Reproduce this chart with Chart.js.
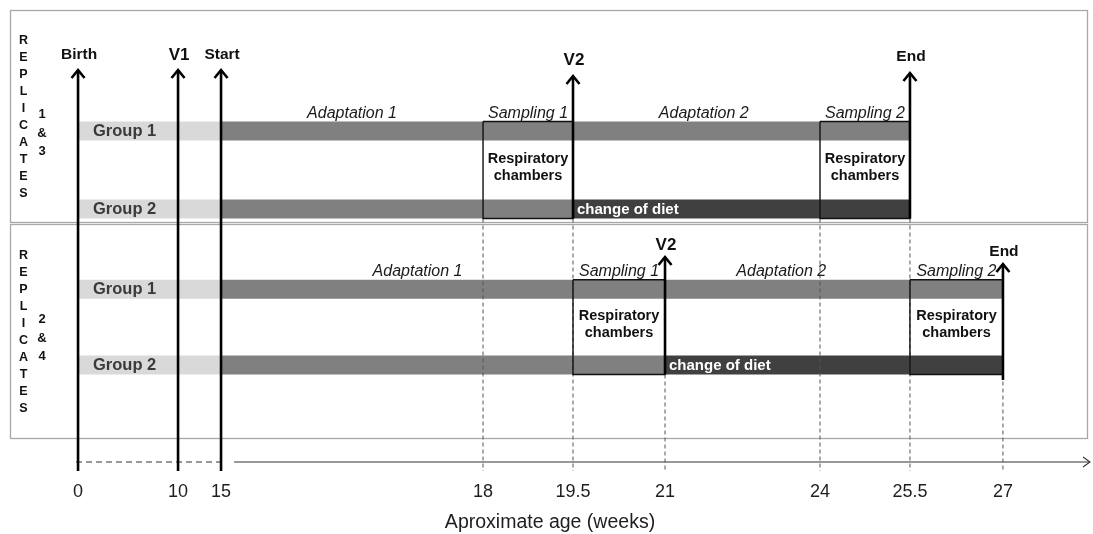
<!DOCTYPE html>
<html>
<head>
<meta charset="utf-8">
<script src="https://cdn.jsdelivr.net/npm/chart.js@4.4.1/dist/chart.umd.min.js"></script>
<style>
  html, body { margin: 0; padding: 0; background: #ffffff; }
  #wrap { width: 1093px; height: 534px; }
</style>
</head>
<body>
<div id="wrap"><canvas id="c" width="1093" height="534"></canvas></div>
<script>
// ---------------- data ----------------
const AGE_TICKS = [0, 10, 15, 18, 19.5, 21, 24, 25.5, 27];
const AXIS_TITLE = 'Aproximate age (weeks)';
const GROUPS = ['Group 1', 'Group 2'];
const REPLICATES = ['1 & 3', '2 & 4'];
const SIDE_LABEL = 'REPLICATES';
const BIRTH_AGE = 0;
const V1_AGE = 10;
const START_AGE = 15;
const SAMPLING_1 = [[18, 19.5], [19.5, 21]];
const SAMPLING_2 = [[24, 25.5], [25.5, 27]];
const V2_AGE = [19.5, 21];
const END_AGE = [25.5, 27];
const PERIOD_LABELS = ['Adaptation 1', 'Sampling 1', 'Adaptation 2', 'Sampling 2'];
const BOX_LABEL = ['Respiratory', 'chambers'];
const DIET_LABEL = 'change of diet';
const EVENT_NAMES = { birth: 'Birth', v1: 'V1', start: 'Start', v2: 'V2', end: 'End' };
const ROWS = [[1, 2], [3.03, 4]];          // lanes of Group 1 / Group 2 per replicate panel

// ---------------- layout (not data) ----------------
const X_BREAK_AGES  = [-6.8, 0, 10, 15, 18, 19.5, 21, 24, 25.5, 27, 28.37];
const X_BREAK_FRACS = [0, 0.0630, 0.1556, 0.1954, 0.4380, 0.5213, 0.6065, 0.7500, 0.8333, 0.9194, 1];
const LAYOUT = {
  yMin: -0.68, yAxis: 5.244, belowAxis: 5.36,
  barHalf: 0.122, barPx: 19,
  panels: [[-0.551, 2.167], [2.192, 4.936]],
  commonTip: 0.218,
  v2Tip: [0.295, 2.615], endTip: [0.256, 2.705],
  endBaseExtra: [0, 0.07],
  labelGap: [15, 11],
  repOffset: [17, 7]
};
const LIGHT = '#d9d9d9', MID = '#808080', DARK = '#404040';
const FONT = '"Liberation Sans", Arial, sans-serif';

// ---------------- piecewise age scale ----------------
const BaseLinear = Chart.LinearScale || Chart.registry.getScale('linear');
class PiecewiseScale extends BaseLinear {
  _toDecimal(v) {
    const a = X_BREAK_AGES, f = X_BREAK_FRACS, n = a.length - 1;
    if (v <= a[0]) return f[0] + (v - a[0]) * (f[1] - f[0]) / (a[1] - a[0]);
    for (let i = 1; i <= n; i++) {
      if (v <= a[i]) return f[i - 1] + (v - a[i - 1]) * (f[i] - f[i - 1]) / (a[i] - a[i - 1]);
    }
    return f[n] + (v - a[n]) * (f[n] - f[n - 1]) / (a[n] - a[n - 1]);
  }
  _fromDecimal(d) {
    const a = X_BREAK_AGES, f = X_BREAK_FRACS, n = a.length - 1;
    for (let i = 1; i <= n; i++) {
      if (d <= f[i] || i === n) return a[i - 1] + (d - f[i - 1]) * (a[i] - a[i - 1]) / (f[i] - f[i - 1]);
    }
  }
  getPixelForValue(value) {
    if (value === null || value === undefined || isNaN(value)) return NaN;
    return this.getPixelForDecimal(this._toDecimal(value));
  }
  getValueForPixel(pixel) {
    return this._fromDecimal(this.getDecimalForPixel(pixel));
  }
}
PiecewiseScale.id = 'piecewise';
PiecewiseScale.defaults = {};
Chart.register(PiecewiseScale);

// ---------------- datasets ----------------
const datasets = [];
function line(points, style) {
  datasets.push(Object.assign({
    type: 'line', data: points, pointRadius: 0, pointHoverRadius: 0, fill: false,
    tension: 0, clip: false, borderCapStyle: 'butt', borderJoinStyle: 'miter'
  }, style));
}
const barStyle = c => ({ borderColor: c, borderWidth: LAYOUT.barPx, order: 50 });
const arrowStyle = (label, font, gap) => ({
  borderColor: '#000', borderWidth: 2.6, order: 10,
  arrowHead: { half: 6.5, len: 8, width: 2.6 }, label, labelFont: font, labelGap: gap
});
const H = LAYOUT.barHalf;

// common arrows
line([{ x: BIRTH_AGE, y: LAYOUT.belowAxis }, { x: BIRTH_AGE, y: LAYOUT.commonTip }], arrowStyle(EVENT_NAMES.birth, 'bold 15.5px ' + FONT, 15));
line([{ x: V1_AGE, y: LAYOUT.belowAxis }, { x: V1_AGE, y: LAYOUT.commonTip }], arrowStyle(EVENT_NAMES.v1, 'bold 17px ' + FONT, 15));
line([{ x: START_AGE, y: LAYOUT.belowAxis }, { x: START_AGE, y: LAYOUT.commonTip }], arrowStyle(EVENT_NAMES.start, 'bold 15.5px ' + FONT, 15));

const dashedDone = new Set();
ROWS.forEach((rows, p) => {
  const [g1, g2] = rows;
  const v2 = V2_AGE[p], end = END_AGE[p];
  // Group 1
  line([{ x: BIRTH_AGE, y: g1 }, { x: START_AGE, y: g1 }], barStyle(LIGHT));
  line([{ x: START_AGE, y: g1 }, { x: end, y: g1 }], barStyle(MID));
  // Group 2
  line([{ x: BIRTH_AGE, y: g2 }, { x: START_AGE, y: g2 }], barStyle(LIGHT));
  line([{ x: START_AGE, y: g2 }, { x: v2, y: g2 }], barStyle(MID));
  line([{ x: v2, y: g2 }, { x: end, y: g2 }], barStyle(DARK));
  // respiratory chamber boxes
  [SAMPLING_1[p], SAMPLING_2[p]].forEach(([a, b]) => {
    line([{ x: a, y: g1 - H }, { x: b, y: g1 - H }, { x: b, y: g2 + H }, { x: a, y: g2 + H }, { x: a, y: g1 - H }],
      { borderColor: '#111', borderWidth: 1.4, order: 30 });
  });
  // dashed guides
  [SAMPLING_1[p][0], SAMPLING_1[p][1], SAMPLING_2[p][0], SAMPLING_2[p][1]].forEach(a => {
    if (dashedDone.has(a)) return;
    dashedDone.add(a);
    line([{ x: a, y: g2 + H }, { x: a, y: LAYOUT.belowAxis }],
      { borderColor: '#555', borderWidth: 1, borderDash: [4, 3], order: 40 });
  });
  // V2 and End arrows
  line([{ x: v2, y: g2 + H }, { x: v2, y: LAYOUT.v2Tip[p] }], arrowStyle(EVENT_NAMES.v2, 'bold 17px ' + FONT, LAYOUT.labelGap[p] + 1));
  line([{ x: end, y: g2 + H + LAYOUT.endBaseExtra[p] }, { x: end, y: LAYOUT.endTip[p] }], arrowStyle(EVENT_NAMES.end, 'bold 15.5px ' + FONT, LAYOUT.labelGap[p] + 1));
});

// time axis line: dashed before Start, solid afterwards with arrow
line([{ x: BIRTH_AGE - 0.2, y: LAYOUT.yAxis }, { x: START_AGE - 0.1, y: LAYOUT.yAxis }],
  { borderColor: '#333', borderWidth: 1.2, borderDash: [6, 4], order: 45 });
line([{ x: START_AGE + 0.15, y: LAYOUT.yAxis }, { x: X_BREAK_AGES[X_BREAK_AGES.length - 1], y: LAYOUT.yAxis }],
  { borderColor: '#333', borderWidth: 1.2, order: 45, arrowHead: { half: 5, len: 7, width: 1.1 } });

// ---------------- annotation plugin ----------------
const annot = {
  id: 'annot',
  beforeDatasetsDraw(chart) {
    const ctx = chart.ctx, { left, right } = chart.chartArea;
    const y = v => chart.scales.y.getPixelForValue(v);
    ctx.save();
    ctx.strokeStyle = '#a8a8a8';
    ctx.lineWidth = 1.3;
    LAYOUT.panels.forEach(([t, b]) => {
      const yt = Math.round(y(t)) + 0.5, yb = Math.round(y(b)) + 0.5;
      ctx.strokeRect(left + 0.5, yt, right - left - 3, yb - yt);
    });
    ctx.restore();
  },
  afterDatasetsDraw(chart) {
    const ctx = chart.ctx, { left } = chart.chartArea;
    const x = v => chart.scales.x.getPixelForValue(v);
    const y = v => chart.scales.y.getPixelForValue(v);
    ctx.save();
    // arrow heads and event labels
    chart.data.datasets.forEach((ds, i) => {
      if (!ds.arrowHead) return;
      const pts = chart.getDatasetMeta(i).data;
      const tip = pts[pts.length - 1], prev = pts[pts.length - 2];
      const a = Math.atan2(tip.y - prev.y, tip.x - prev.x);
      const dx = Math.cos(a), dy = Math.sin(a), nx = -dy, ny = dx;
      const { half, len, width } = ds.arrowHead;
      ctx.strokeStyle = ds.borderColor;
      ctx.lineWidth = width;
      ctx.lineJoin = 'miter';
      ctx.lineCap = 'butt';
      ctx.setLineDash([]);
      ctx.beginPath();
      ctx.moveTo(tip.x - len * dx + half * nx, tip.y - len * dy + half * ny);
      ctx.lineTo(tip.x, tip.y);
      ctx.lineTo(tip.x - len * dx - half * nx, tip.y - len * dy - half * ny);
      ctx.stroke();
      if (ds.label) {
        ctx.fillStyle = '#111';
        ctx.font = ds.labelFont;
        ctx.textAlign = 'center';
        ctx.textBaseline = 'middle';
        ctx.fillText(ds.label, tip.x + 1, tip.y - ds.labelGap);
      }
    });

    ROWS.forEach((rows, p) => {
      const [g1, g2] = rows;
      const [pt, pb] = LAYOUT.panels[p];
      const mid = (y(pt) + y(pb)) / 2;
      // side letters
      ctx.fillStyle = '#111';
      ctx.textAlign = 'center';
      ctx.textBaseline = 'middle';
      ctx.font = 'bold 12.5px ' + FONT;
      const letters = SIDE_LABEL.split('');
      letters.forEach((c, k) => ctx.fillText(c, left + 13.5, mid + 1 + (k - (letters.length - 1) / 2) * 17));
      ctx.font = 'bold 13px ' + FONT;
      const reps = REPLICATES[p].split(' ');
      reps.forEach((c, k) => ctx.fillText(c, left + 32, mid + LAYOUT.repOffset[p] + (k - (reps.length - 1) / 2) * 18.5));
      // group labels
      ctx.font = 'bold 16.5px ' + FONT;
      ctx.fillStyle = '#3a3a3a';
      ctx.textAlign = 'left';
      [g1, g2].forEach((g, k) => ctx.fillText(GROUPS[k], x(BIRTH_AGE) + 15, y(g) + 0.5));
      // period labels
      const s1 = SAMPLING_1[p], s2 = SAMPLING_2[p];
      const spans = [[START_AGE, s1[0]], s1, [s1[1], s2[0]], s2];
      ctx.font = 'italic 16px ' + FONT;
      ctx.fillStyle = '#1a1a1a';
      ctx.textAlign = 'center';
      ctx.textBaseline = 'alphabetic';
      spans.forEach(([a, b], k) => ctx.fillText(PERIOD_LABELS[k], x((a + b) / 2), y(g1 - H) - 4));
      // box labels
      ctx.font = 'bold 14.5px ' + FONT;
      ctx.fillStyle = '#111';
      ctx.textBaseline = 'middle';
      const cy = (y(g1) + y(g2)) / 2 - 3;
      [s1, s2].forEach(([a, b]) => {
        const cx = (x(a) + x(b)) / 2;
        ctx.fillText(BOX_LABEL[0], cx, cy - 8.5);
        ctx.fillText(BOX_LABEL[1], cx, cy + 8.5);
      });
      // diet change label
      ctx.font = 'bold 15px ' + FONT;
      ctx.fillStyle = '#ffffff';
      ctx.textAlign = 'left';
      ctx.fillText(DIET_LABEL, x(V2_AGE[p]) + 4, y(g2) + 0.5);
    });
    ctx.restore();
  }
};

new Chart(document.getElementById('c'), {
  type: 'line',
  data: { datasets },
  plugins: [annot],
  options: {
    responsive: false,
    animation: false,
    events: [],
    layout: { padding: { left: 10, right: 3, top: 0, bottom: 0 } },
    plugins: { legend: { display: false }, tooltip: { enabled: false } },
    scales: {
      x: {
        type: 'piecewise',
        position: 'bottom',
        min: X_BREAK_AGES[0],
        max: X_BREAK_AGES[X_BREAK_AGES.length - 1],
        grid: { display: false, drawTicks: false },
        border: { display: false },
        afterBuildTicks: s => { s.ticks = AGE_TICKS.map(v => ({ value: v })); },
        afterFit: s => { s.height = 72; },
        ticks: {
          autoSkip: false, maxRotation: 0, minRotation: 0, padding: 19.7,
          color: '#1e1e1e', font: { family: FONT, size: 18 },
          callback: v => String(v)
        },
        title: {
          display: true, text: AXIS_TITLE, color: '#1e1e1e',
          font: { family: FONT, size: 19.5 }, padding: { top: 0, bottom: 0 }
        }
      },
      y: {
        type: 'linear', display: false, reverse: true,
        min: LAYOUT.yMin, max: LAYOUT.yAxis
      }
    }
  }
});
</script>
</body>
</html>
